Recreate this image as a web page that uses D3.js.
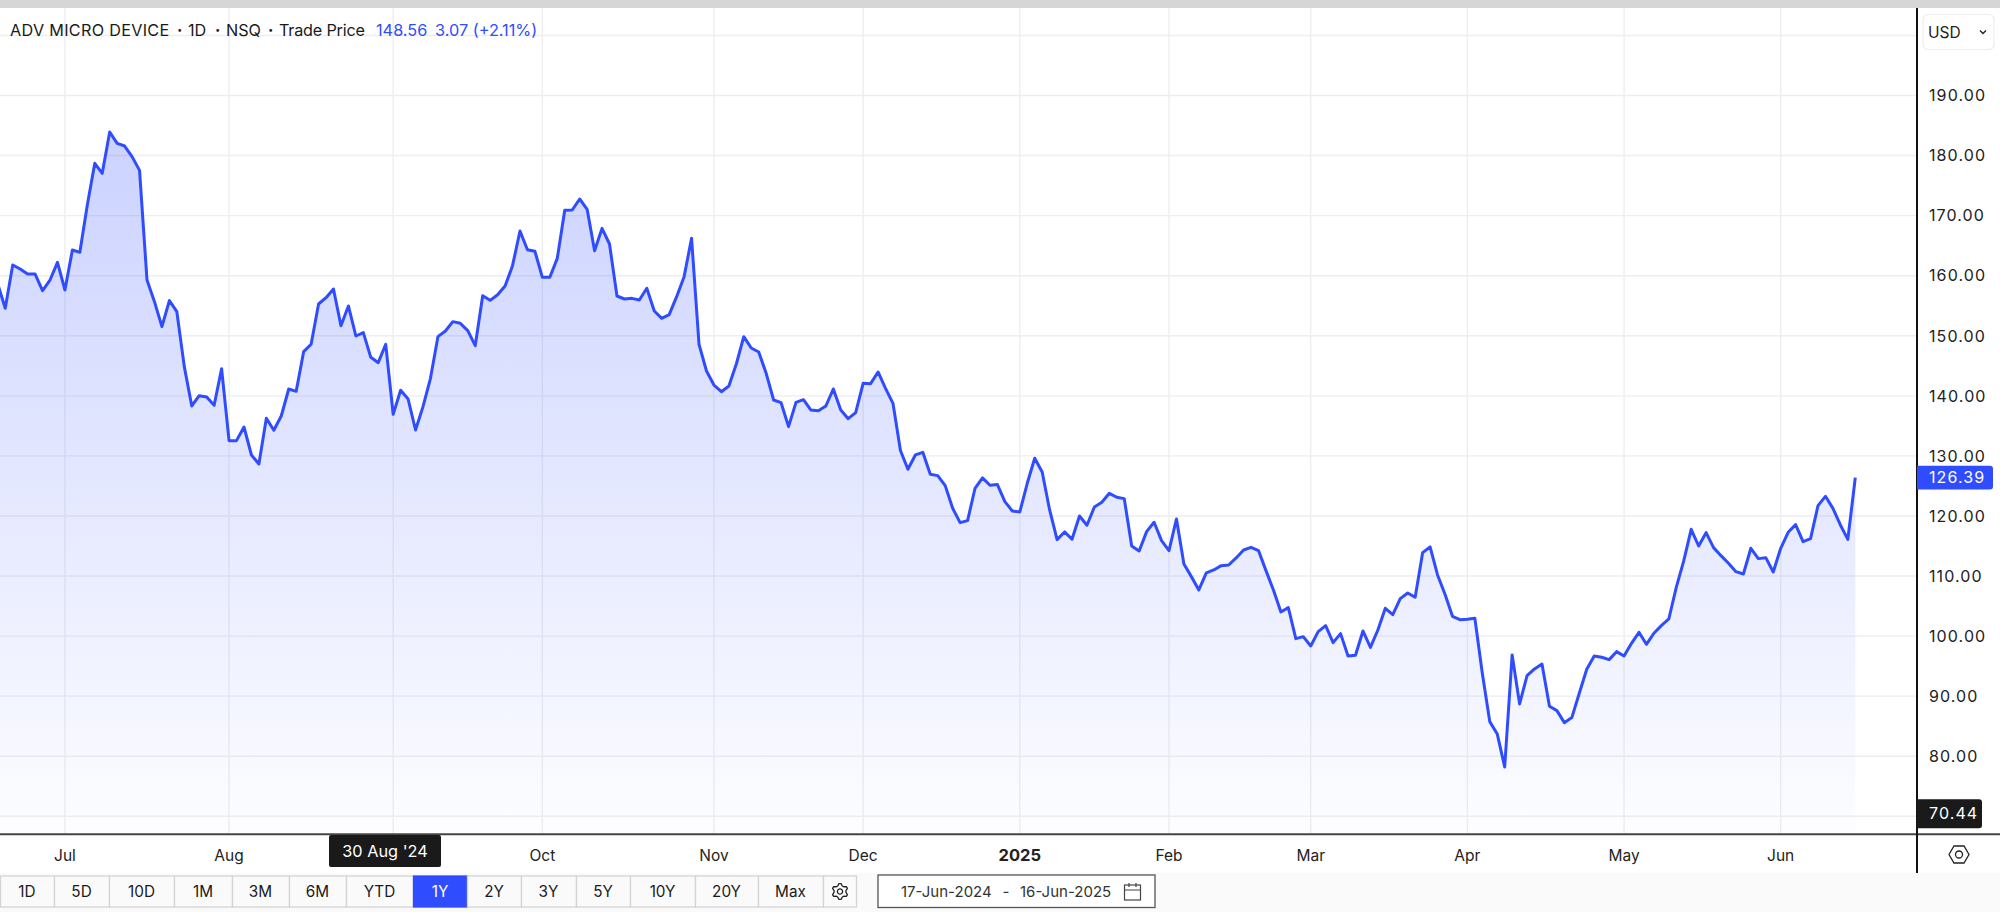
<!DOCTYPE html>
<html><head><meta charset="utf-8">
<script src="https://cdn.jsdelivr.net/npm/d3@7/dist/d3.min.js"></script>
<style>html,body{margin:0;padding:0;background:#fff;overflow:hidden}svg{display:block}text{font-family:Inter,"Noto Sans",sans-serif}</style>
</head><body><svg id="c" width="2000" height="912"></svg>
<script>
const prices=[158.56,154.57,161.78,161.12,160.28,160.28,157.51,159.28,162.23,157.62,164.28,163.89,171.77,178.71,177.04,183.92,182.04,181.59,179.82,177.54,159.28,155.68,151.52,155.85,154.01,144.86,138.31,140.03,139.81,138.42,144.52,132.54,132.54,134.81,130.15,128.65,136.26,134.26,136.64,141.14,140.75,147.35,148.58,155.29,156.34,157.79,151.68,154.96,149.96,150.52,146.41,145.52,148.58,136.92,140.92,139.47,134.31,138.20,142.92,149.85,150.80,152.35,152.07,150.85,148.35,156.67,155.90,156.84,158.28,161.67,167.44,164.33,164.06,159.73,159.73,162.89,170.88,170.94,172.77,171.05,164.17,167.88,165.28,156.62,156.12,156.23,155.95,157.90,154.12,152.90,153.51,156.51,159.84,166.22,148.57,144.13,141.80,140.69,141.64,145.30,149.85,147.96,147.30,143.75,139.31,138.86,134.87,138.92,139.36,137.64,137.53,138.31,141.14,137.64,136.20,137.20,142.08,142.03,143.97,141.25,138.75,130.90,127.77,130.16,130.60,126.94,126.72,125.05,121.28,118.89,119.22,124.61,126.33,125.11,125.22,122.39,120.83,120.67,125.44,129.60,127.33,121.00,116.06,117.34,116.12,120.00,118.45,121.50,122.28,123.77,123.11,122.89,115.01,114.17,117.39,118.95,115.90,114.23,119.50,112.01,109.90,107.68,110.51,111.01,111.73,111.84,113.01,114.34,114.78,114.23,110.90,107.68,104.02,104.74,99.58,99.91,98.36,100.75,101.74,98.91,100.41,96.69,96.81,100.85,98.13,101.02,104.63,103.57,106.24,107.18,106.46,113.89,114.84,110.18,106.96,103.30,102.74,102.80,102.96,93.81,85.76,83.71,78.21,96.86,88.70,93.42,94.53,95.36,88.31,87.59,85.59,86.43,90.48,94.47,96.69,96.47,96.08,97.41,96.69,98.80,100.63,98.63,100.47,101.74,102.85,108.12,112.51,117.78,115.00,117.22,114.73,113.39,112.12,110.73,110.34,114.62,112.90,113.06,110.68,114.62,117.28,118.56,115.73,116.22,121.72,123.27,121.27,118.50,116.11,126.39];
const gridValues=[200,190,180,170,160,150,140,130,120,110,100,90,80,70];
const priceTicks=[190,180,170,160,150,140,130,120,110,100,90,80];
const monthLabels=["Jul","Aug","Oct","Nov","Dec","2025","Feb","Mar","Apr","May","Jun"];
const monthLabelIndex=[9,31,73,96,116,137,157,176,197,218,239];
const monthGridIndex=[9,31,53,73,96,116,137,157,176,197,218,239];
const rangeButtons=["1D","5D","10D","1M","3M","6M","YTD","1Y","2Y","3Y","5Y","10Y","20Y","Max"];
const rangeEdges=[0,54,109,174,232,289,346,413,467,521,576,630,695,758,823];
const activeRange="1Y";
const lastPrice=126.39, lowPrice=70.44, tooltipText="30 Aug '24";
const headerParts=[["ADV MICRO DEVICE",10,0.3],["·",177,0],["1D",188,0],["·",215,0],["NSQ",226,0],["·",268,0],["Trade Price",279,-0.2]];
const headerBlue=[["148.56",376],["3.07 (+2.11%)",435]];

const svg=d3.select("#c");
const BLUE="#2f4cff", DARK="#1a1a1a";
const x=d3.scaleLinear().domain([0,prices.length-1]).range([-2.2,1855.3]);
const y=d3.scaleLinear().domain([70,190]).range([816.3,95.5]);
const plotBottom=833, axisX=1917, labelX=1929;

svg.append("rect").attr("x",0).attr("y",873).attr("width",2000).attr("height",39).attr("fill","#fafafa");
svg.append("rect").attr("x",0).attr("y",0).attr("width",2000).attr("height",8).attr("fill","#d6d6d6");

const defs=svg.append("defs");
const grad=defs.append("linearGradient").attr("id","fade").attr("gradientUnits","userSpaceOnUse")
 .attr("x1",0).attr("x2",0).attr("y1",y(d3.max(prices))).attr("y2",plotBottom);
grad.append("stop").attr("offset",0).attr("stop-color",BLUE).attr("stop-opacity",0.25);
grad.append("stop").attr("offset",1).attr("stop-color",BLUE).attr("stop-opacity",0.01);
defs.append("clipPath").attr("id","plot").append("rect").attr("x",0).attr("y",8).attr("width",axisX).attr("height",plotBottom-8);

const gridG=svg.append("g").attr("stroke","#eeeef1").attr("stroke-width",1.4);
gridG.selectAll(".h").data(gridValues).join("line").attr("x1",0).attr("x2",axisX).attr("y1",d=>y(d)).attr("y2",d=>y(d));
gridG.selectAll(".v").data(monthGridIndex).join("line").attr("x1",d=>x(d)).attr("x2",d=>x(d)).attr("y1",8).attr("y2",plotBottom);

const g=svg.append("g").attr("clip-path","url(#plot)");
g.append("path").datum(prices).attr("fill","url(#fade)")
 .attr("d",d3.area().x((d,i)=>x(i)).y0(plotBottom).y1(d=>y(d)));
g.append("path").datum(prices).attr("fill","none").attr("stroke",BLUE).attr("stroke-width",3).attr("stroke-linejoin","round")
 .attr("d",d3.line().x((d,i)=>x(i)).y(d=>y(d)));

// header
svg.append("g").selectAll("text").data(headerParts).join("text")
 .attr("x",d=>d[1]).attr("y",30).attr("dy","0.36em").attr("font-size",16.2).attr("letter-spacing",d=>d[2]).attr("font-weight",d=>d[0]==="·"?700:400).attr("fill","#1a1a1a").text(d=>d[0]);
svg.append("g").selectAll("text").data(headerBlue).join("text")
 .attr("x",d=>d[1]).attr("y",30).attr("dy","0.36em").attr("font-size",16.3).attr("fill",BLUE).text(d=>d[0]);

// axes frame
svg.append("line").attr("x1",0).attr("x2",2000).attr("y1",834.3).attr("y2",834.3).attr("stroke","#444").attr("stroke-width",2);
svg.append("line").attr("x1",axisX).attr("x2",axisX).attr("y1",8).attr("y2",873).attr("stroke","#111").attr("stroke-width",2);

// y axis labels
svg.append("g").selectAll("text").data(priceTicks).join("text")
 .attr("x",labelX).attr("y",d=>y(d)).attr("dy","0.36em")
 .attr("font-size",16).attr("letter-spacing",1.1).attr("fill","#222").text(d=>d3.format(".2f")(d));

function badge(v,fill,w,h){
 const yy=y(v);
 svg.append("path").attr("fill",fill)
  .attr("d",`M${axisX} ${yy-h/2}H${axisX+w-3}q3 0 3 3V${yy+h/2-3}q0 3 -3 3H${axisX}Z`);
 svg.append("text").attr("x",labelX).attr("y",yy).attr("dy","0.36em")
  .attr("font-size",16).attr("letter-spacing",1.1).attr("fill","#fff").text(d3.format(".2f")(v));
}
badge(lastPrice,BLUE,76,23.6);
badge(lowPrice,DARK,65,29);

// USD selector
svg.append("rect").attr("x",1923).attr("y",14.5).attr("width",71).attr("height",35).attr("rx",5).attr("fill","#fff").attr("stroke","#eee").attr("stroke-width",1.2);
svg.append("text").attr("x",1928).attr("y",37.5).attr("font-size",15.5).attr("fill","#222").text("USD");
svg.append("path").attr("d","M1980 30.5l3 3l3 -3").attr("fill","none").attr("stroke","#222").attr("stroke-width",1.4);

// x labels
svg.append("g").selectAll("text").data(monthLabels).join("text")
 .attr("x",(d,i)=>x(monthLabelIndex[i])).attr("y",855).attr("dy","0.36em").attr("text-anchor","middle")
 .attr("font-size",d=>d==="2025"?16.5:15.5).attr("fill","#222").attr("font-weight",d=>d==="2025"?700:400).text(d=>d);

// tooltip
svg.append("rect").attr("x",329).attr("y",835).attr("width",112).attr("height",32).attr("rx",2).attr("fill",DARK);
svg.append("text").attr("x",385).attr("y",855).attr("dy","0.1em").attr("text-anchor","middle").attr("font-size",16.3).attr("fill","#fff").text(tooltipText);

// hex icon
svg.append("path").attr("d","M1949 854.5l5 -8.5h10l5 8.5l-5 8.5h-10z").attr("fill","none").attr("stroke","#222").attr("stroke-width",1.3);
svg.append("circle").attr("cx",1959).attr("cy",854.5).attr("r",3.5).attr("fill","none").attr("stroke","#222").attr("stroke-width",1.3);

// range bar
const btn=svg.append("g");
rangeButtons.forEach((b,i)=>{
 const x0=rangeEdges[i], x1=rangeEdges[i+1], on=b===activeRange;
 btn.append("rect").attr("x",x0+0.5).attr("y",876).attr("width",x1-x0).attr("height",31)
  .attr("fill",on?BLUE:"#fafafa").attr("stroke",on?BLUE:"#d4d4d4").attr("stroke-width",1.3);
 btn.append("text").attr("x",(x0+x1)/2).attr("y",891.5).attr("dy","0.36em").attr("text-anchor","middle")
  .attr("font-size",15.3).attr("fill",on?"#fff":"#1a1a1a").text(b);
});
// gear
btn.append("rect").attr("x",823.5).attr("y",876).attr("width",33).attr("height",31).attr("fill","#fafafa").attr("stroke","#d4d4d4").attr("stroke-width",1.3);
const gear=btn.append("g").attr("transform","translate(840,891.5)").attr("fill","none").attr("stroke","#222").attr("stroke-width",1.3);
gear.append("circle").attr("r",2.6);
const gearR=[8,8,6,6];
gear.append("path").attr("d",d3.range(24).map(k=>{const a=(k-0.5)*Math.PI/12,r=gearR[k%4];return (k?"L":"M")+(r*Math.sin(a)).toFixed(2)+" "+(-r*Math.cos(a)).toFixed(2)}).join("")+"Z").attr("stroke-linejoin","round");

// date box
svg.append("rect").attr("x",878).attr("y",875).attr("width",277).attr("height",32.5).attr("fill","#fff").attr("stroke","#555").attr("stroke-width",1.3);
svg.append("text").attr("x",901).attr("y",891.5).attr("dy","0.36em").attr("font-size",15).attr("fill","#333").text("17-Jun-2024");
svg.append("text").attr("x",1006).attr("y",891.5).attr("dy","0.36em").attr("text-anchor","middle").attr("font-size",15).attr("fill","#333").text("-");
svg.append("text").attr("x",1020).attr("y",891.5).attr("dy","0.36em").attr("font-size",15).attr("fill","#333").text("16-Jun-2025");
const cal=svg.append("g").attr("fill","none").attr("stroke","#444").attr("stroke-width",1.2);
cal.append("rect").attr("x",1124.5).attr("y",885).attr("width",16).attr("height",15);
cal.append("path").attr("d","M1124.5 890H1140.5M1129 883V887M1136 883V887");
</script></body></html>
